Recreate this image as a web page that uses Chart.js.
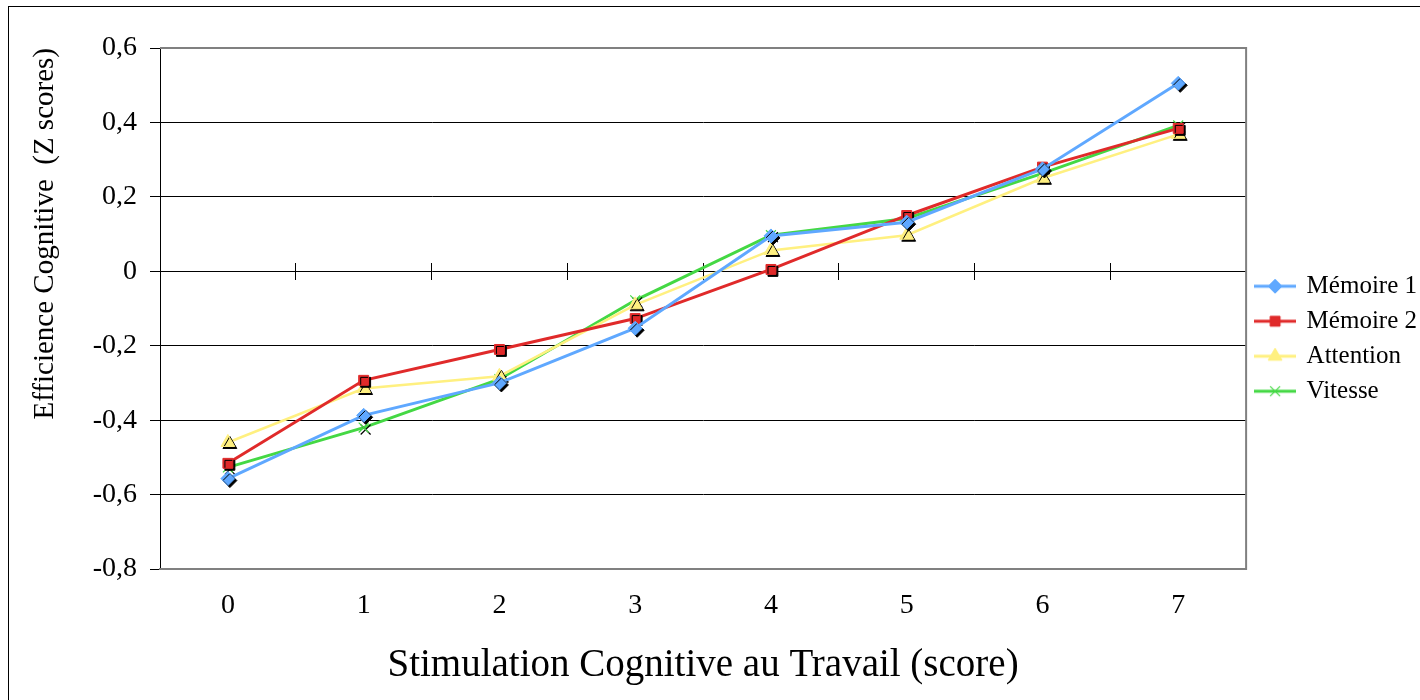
<!DOCTYPE html>
<html>
<head>
<meta charset="utf-8">
<script src="https://cdn.jsdelivr.net/npm/chart.js@4/dist/chart.umd.min.js"></script>
<style>
  body { margin: 0; background: #fff; }
  #wrap { position: relative; width: 1420px; height: 700px; }
  #frame { position: absolute; left: 8px; top: 6px; right: 0; bottom: 0; border-left: 1px solid #000; border-top: 1px solid #000; pointer-events: none; }
</style>
</head>
<body>
<div id="wrap">
  <canvas id="Line" width="1420" height="700"></canvas>
  <div id="frame"></div>
</div>
<script>
const categories = ['0', '1', '2', '3', '4', '5', '6', '7'];
const memoire1 = [-0.557, -0.387, -0.30, -0.153, 0.095, 0.132, 0.275, 0.505];
const memoire2 = [-0.516, -0.293, -0.21, -0.127, 0.005, 0.15, 0.28, 0.384];
const attention = [-0.46, -0.315, -0.282, -0.09, 0.056, 0.097, 0.25, 0.368];
const vitesse = [-0.527, -0.42, -0.29, -0.078, 0.097, 0.142, 0.263, 0.392];
const yTickLabels = ['-0,8', '-0,6', '-0,4', '-0,2', '0', '0,2', '0,4', '0,6'];

const serif = "'Liberation Serif', 'Times New Roman', serif";

// black drop shadow under the markers, like the old Excel chart
const pointDraw = Chart.PointElement.prototype.draw;
Chart.PointElement.prototype.draw = function (ctx, area) {
  ctx.save();
  ctx.shadowColor = '#000';
  ctx.shadowOffsetX = 2;
  ctx.shadowOffsetY = 2;
  ctx.shadowBlur = 0;
  pointDraw.call(this, ctx, area);
  ctx.restore();
};

// legend icon: a short line with the marker on it
function legendIcon(color, style, radius, width) {
  const c = document.createElement('canvas');
  c.width = 42;
  c.height = 20;
  const g = c.getContext('2d');
  g.strokeStyle = color;
  g.lineWidth = 3;
  g.beginPath();
  g.moveTo(0, 10);
  g.lineTo(42, 10);
  g.stroke();
  g.fillStyle = color;
  g.lineWidth = width;
  Chart.helpers.drawPoint(g, { pointStyle: style, radius: radius, borderWidth: width, rotation: 0 }, 21, 10);
  if (style !== 'crossRot') g.fill();
  return c;
}

const icons = [
  legendIcon('#5fa8ff', 'rectRot', 7, 1),
  legendIcon('#e02a2a', 'rect', 7, 1),
  legendIcon('#fff080', 'triangle', 8, 1),
  legendIcon('#44d844', 'crossRot', 7, 1.2)
];

const plotBorder = {
  id: 'plotBorder',
  beforeDatasetsDraw(chart) {
    const { ctx, chartArea: a } = chart;
    ctx.save();
    ctx.strokeStyle = '#808080';
    ctx.lineWidth = 2;
    ctx.beginPath();
    ctx.moveTo(a.left, a.top);
    ctx.lineTo(a.right, a.top);
    ctx.lineTo(a.right, a.bottom);
    ctx.lineTo(a.left, a.bottom);
    ctx.stroke();
    ctx.restore();
  }
};

const ctx = document.getElementById('Line');

const lineChart = new Chart(ctx, {
  type: 'line',
  data: {
    labels: categories,
    datasets: [
      {
        label: 'Mémoire 1',
        data: memoire1,
        borderColor: '#5fa8ff',
        backgroundColor: '#5fa8ff',
        borderWidth: 3,
        pointStyle: 'rectRot',
        pointRadius: 7,
        pointBorderWidth: 1
      },
      {
        label: 'Mémoire 2',
        data: memoire2,
        borderColor: '#e02a2a',
        backgroundColor: '#e02a2a',
        borderWidth: 3,
        pointStyle: 'rect',
        pointRadius: 7,
        pointBorderWidth: 1
      },
      {
        label: 'Attention',
        data: attention,
        borderColor: '#fff080',
        backgroundColor: '#fff080',
        borderWidth: 2.5,
        pointStyle: 'triangle',
        pointRadius: 8,
        pointBorderWidth: 1
      },
      {
        label: 'Vitesse',
        data: vitesse,
        borderColor: '#44d844',
        backgroundColor: '#44d844',
        borderWidth: 3,
        pointStyle: 'crossRot',
        pointRadius: 7,
        pointBorderWidth: 1.2
      }
    ]
  },
  options: {
    responsive: false,
    animation: false,
    layout: { padding: { left: 8, top: 48, right: -7, bottom: 0 } },
    elements: { line: { tension: 0 } },
    scales: {
      x: {
        type: 'category',
        offset: true,
        grid: { display: true, drawOnChartArea: false, drawTicks: false },
        border: { display: true, color: '#808080', width: 2 },
        ticks: { color: '#000', padding: 20, font: { family: serif, size: 28 } },
        title: {
          display: true,
          text: 'Stimulation Cognitive au Travail (score)',
          color: '#000',
          font: { family: serif, size: 39 },
          padding: { top: 0, bottom: 11 }
        },
        afterFit(scale) { scale.height = 131; }
      },
      // tick marks crossing the zero line between categories
      x2: {
        type: 'category',
        labels: categories,
        position: { y: 0.022 },
        offset: true,
        grid: { offset: true, drawOnChartArea: false, color: '#000', tickLength: 17 },
        border: { display: false },
        ticks: { display: false }
      },
      y: {
        min: -0.8,
        max: 0.6,
        ticks: {
          stepSize: 0.2,
          color: '#000',
          padding: 13,
          font: { family: serif, size: 28 },
          callback: (value, index) => yTickLabels[index]
        },
        grid: {
          color: (c) => (c.index === 0 || c.index === yTickLabels.length - 1 ? '#808080' : '#000'),
          tickColor: '#000',
          tickLength: 10,
          lineWidth: 1
        },
        border: { display: true, color: '#000', width: 1 },
        title: {
          display: true,
          text: 'Efficience Cognitive  (Z scores)',
          align: 'end',
          color: '#000',
          font: { family: serif, size: 29 },
          padding: { top: 20, bottom: 0 }
        },
        afterFit(scale) { scale.width = 152; }
      }
    },
    plugins: {
      tooltip: { enabled: false },
      legend: {
        position: 'right',
        fullSize: false,
        title: { display: true, text: '', padding: { top: 0, bottom: 46 } },
        labels: {
          usePointStyle: true,
          pointStyleWidth: 38,
          color: '#000',
          padding: 10,
          font: { family: serif, size: 25 },
          generateLabels(chart) {
            const items = Chart.defaults.plugins.legend.labels.generateLabels(chart);
            items.forEach((it, i) => { it.pointStyle = icons[i]; it.lineWidth = 0; });
            return items;
          }
        }
      }
    }
  },
  plugins: [plotBorder]
});
</script>
</body>
</html>
